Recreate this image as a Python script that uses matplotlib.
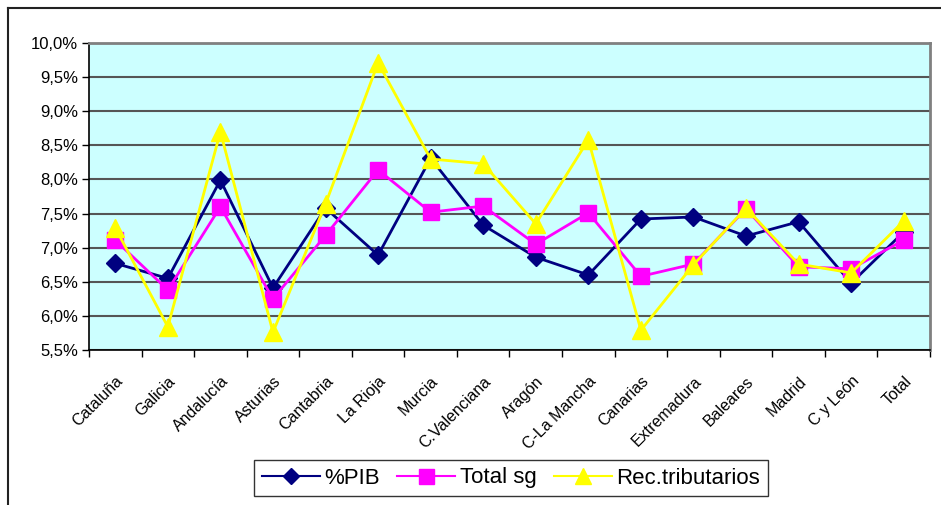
import numpy as np
import matplotlib
matplotlib.use("Agg")
import matplotlib.pyplot as plt
from matplotlib.lines import Line2D
import matplotlib.ticker as ticker

plt.rcParams['font.family'] = ['Liberation Sans', 'DejaVu Sans']

regions = ["Cataluña", "Galicia", "Andalucía", "Asturias", "Cantabria", "La Rioja",
           "Murcia", "C.Valenciana", "Aragón", "C-La Mancha", "Canarias", "Extremadura",
           "Baleares", "Madrid", "C y León", "Total"]

pib = [6.77, 6.55, 7.99, 6.41, 7.58, 6.89, 8.31, 7.33, 6.86, 6.60, 7.42, 7.45,
       7.17, 7.38, 6.48, 7.23]
total_sg = [7.11, 6.38, 7.60, 6.25, 7.18, 8.14, 7.52, 7.61, 7.05, 7.51, 6.58, 6.76,
            7.57, 6.72, 6.69, 7.11]
rec_trib = [7.29, 5.84, 8.70, 5.76, 7.64, 9.71, 8.30, 8.23, 7.35, 8.58, 5.79, 6.75,
            7.58, 6.76, 6.63, 7.39]

fig = plt.figure(figsize=(9.41, 5.05), dpi=100)

# outer chart frame (only top and left visible)
fig.add_artist(Line2D([8/941, 1.0], [1 - 8/505, 1 - 8/505], color='#222222', lw=1.5,
                      transform=fig.transFigure))
fig.add_artist(Line2D([8/941, 8/941], [0, 1 - 8/505], color='#222222', lw=1.5,
                      transform=fig.transFigure))

ax = fig.add_axes([89/941, 1 - 350/505, (930 - 89)/941, (350 - 43)/505])
ax.set_facecolor('#CCFFFF')

x = np.arange(len(regions))
ax.plot(x, pib, color='#000080', lw=2, marker='D', ms=9, label='%PIB', zorder=3)
ax.plot(x, total_sg, color='#FF00FF', lw=2, marker='s', ms=12, label='Total sg', zorder=4)
ax.plot(x, rec_trib, color='#FFFF00', lw=2, marker='^', ms=13, label='Rec.tributarios', zorder=5)

ax.set_xlim(-0.5, len(regions) - 0.5)
ax.set_ylim(5.5, 10.0)
ax.yaxis.set_major_locator(ticker.MultipleLocator(0.5))
ax.yaxis.set_major_formatter(ticker.FuncFormatter(lambda v, p: f"{v:.1f}%".replace('.', ',')))
ax.grid(axis='y', color='#555555', lw=1.5, zorder=1)
ax.set_axisbelow(True)

ax.set_xticks(x)
ax.set_xticklabels(regions, rotation=45, ha='right', rotation_mode='anchor', fontsize=11.5)
ax.set_xticks(np.arange(-0.5, len(regions)), minor=True)
ax.tick_params(axis='x', which='major', length=0, pad=17)
ax.tick_params(axis='x', which='minor', length=5, direction='out', width=1)
ax.tick_params(axis='y', length=5, direction='out', width=1, labelsize=12, pad=3)

for s in ['left', 'bottom']:
    ax.spines[s].set_color('black')
    ax.spines[s].set_linewidth(1.2)
for s in ['top', 'right']:
    ax.spines[s].set_color('#808080')
    ax.spines[s].set_linewidth(2)

leg = fig.legend(loc='center', bbox_to_anchor=(511/941, 1 - 478/505), ncol=3, fontsize=16,
                 frameon=True, fancybox=False, edgecolor='black', handlelength=2.6,
                 handletextpad=0.2, columnspacing=0.8, borderpad=0.35, markerscale=0.9)
leg.get_frame().set_linewidth(1)
for h in leg.get_lines():
    h.set_linewidth(1.5)

fig.savefig("out.png", dpi=100)
